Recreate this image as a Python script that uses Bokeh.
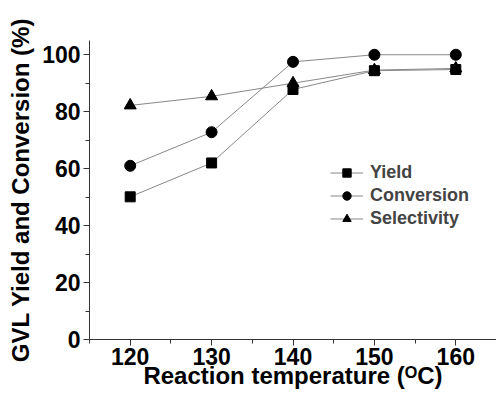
from bokeh.plotting import figure
from bokeh.embed import file_html
from bokeh.resources import INLINE
from bokeh.models import Range1d, FixedTicker, Legend, LegendItem

temps = [120, 130, 140, 150, 160]
yield_vals = [50.1, 62.0, 87.8, 94.4, 94.8]
conversion_vals = [61.0, 72.8, 97.5, 100.0, 100.0]
selectivity_vals = [82.2, 85.4, 90.0, 94.6, 95.2]

x_ticks = [120, 130, 140, 150, 160]
y_ticks = [0, 20, 40, 60, 80, 100]

FONT = "Liberation Sans"

p = figure(width=496, height=395, output_backend="svg", toolbar_location=None,
           x_range=Range1d(115, 165), y_range=Range1d(0, 105),
           min_border_left=89, min_border_right=0, min_border_top=40, min_border_bottom=56)
p.outline_line_color = None
p.grid.visible = False
p.background_fill_color = "white"

for ax in (p.xaxis[0], p.yaxis[0]):
    ax.axis_line_color = "#333333"
    ax.axis_line_width = 1
    ax.major_tick_line_color = "#333333"
    ax.minor_tick_line_color = "#333333"
    ax.major_tick_out = 6
    ax.major_tick_in = 0
    ax.minor_tick_out = 4
    ax.minor_tick_in = 0
    ax.major_label_text_font = FONT
    ax.major_label_text_font_style = "bold"
    ax.major_label_text_font_size = "23px"
    ax.major_label_text_color = "black"
    ax.axis_label_text_font = FONT
    ax.axis_label_text_font_style = "bold"
    ax.axis_label_text_font_size = "24px"
    ax.axis_label_text_color = "black"

p.xaxis.ticker = FixedTicker(ticks=x_ticks, minor_ticks=[115, 125, 135, 145, 155, 165])
p.yaxis.ticker = FixedTicker(ticks=y_ticks, minor_ticks=[10, 30, 50, 70, 90])
p.xaxis.axis_label = "Reaction temperature (\u1d3cC)"
p.yaxis.axis_label = "GVL Yield and Conversion (%)"
p.xaxis.axis_label_standoff = -6
p.yaxis.axis_label_standoff = 5
p.xaxis.major_label_standoff = 2
p.yaxis.major_label_standoff = 3

line_color = "#888888"
l1 = p.line(temps, yield_vals, line_color=line_color, line_width=1)
l2 = p.line(temps, conversion_vals, line_color=line_color, line_width=1)
l3 = p.line(temps, selectivity_vals, line_color=line_color, line_width=1)
s1 = p.scatter(temps, yield_vals, marker="square", size=10, color="black")
s2 = p.scatter(temps, conversion_vals, marker="circle", size=11, color="black")
s3 = p.scatter(temps, selectivity_vals, marker="triangle", size=12, color="black")

legend = Legend(items=[
    LegendItem(label="Yield", renderers=[l1, s1]),
    LegendItem(label="Conversion", renderers=[l2, s2]),
    LegendItem(label="Selectivity", renderers=[l3, s3]),
], location=(241, 110))
legend.border_line_color = None
legend.background_fill_alpha = 0
legend.label_text_font = FONT
legend.label_text_font_style = "bold"
legend.label_text_font_size = "18px"
legend.glyph_width = 33
legend.glyph_height = 21
legend.label_height = 21
legend.label_standoff = 7
legend.spacing = 2
legend.padding = 0
legend.margin = 0
p.add_layout(legend)

open("out.html", "w").write(file_html(p, INLINE))
